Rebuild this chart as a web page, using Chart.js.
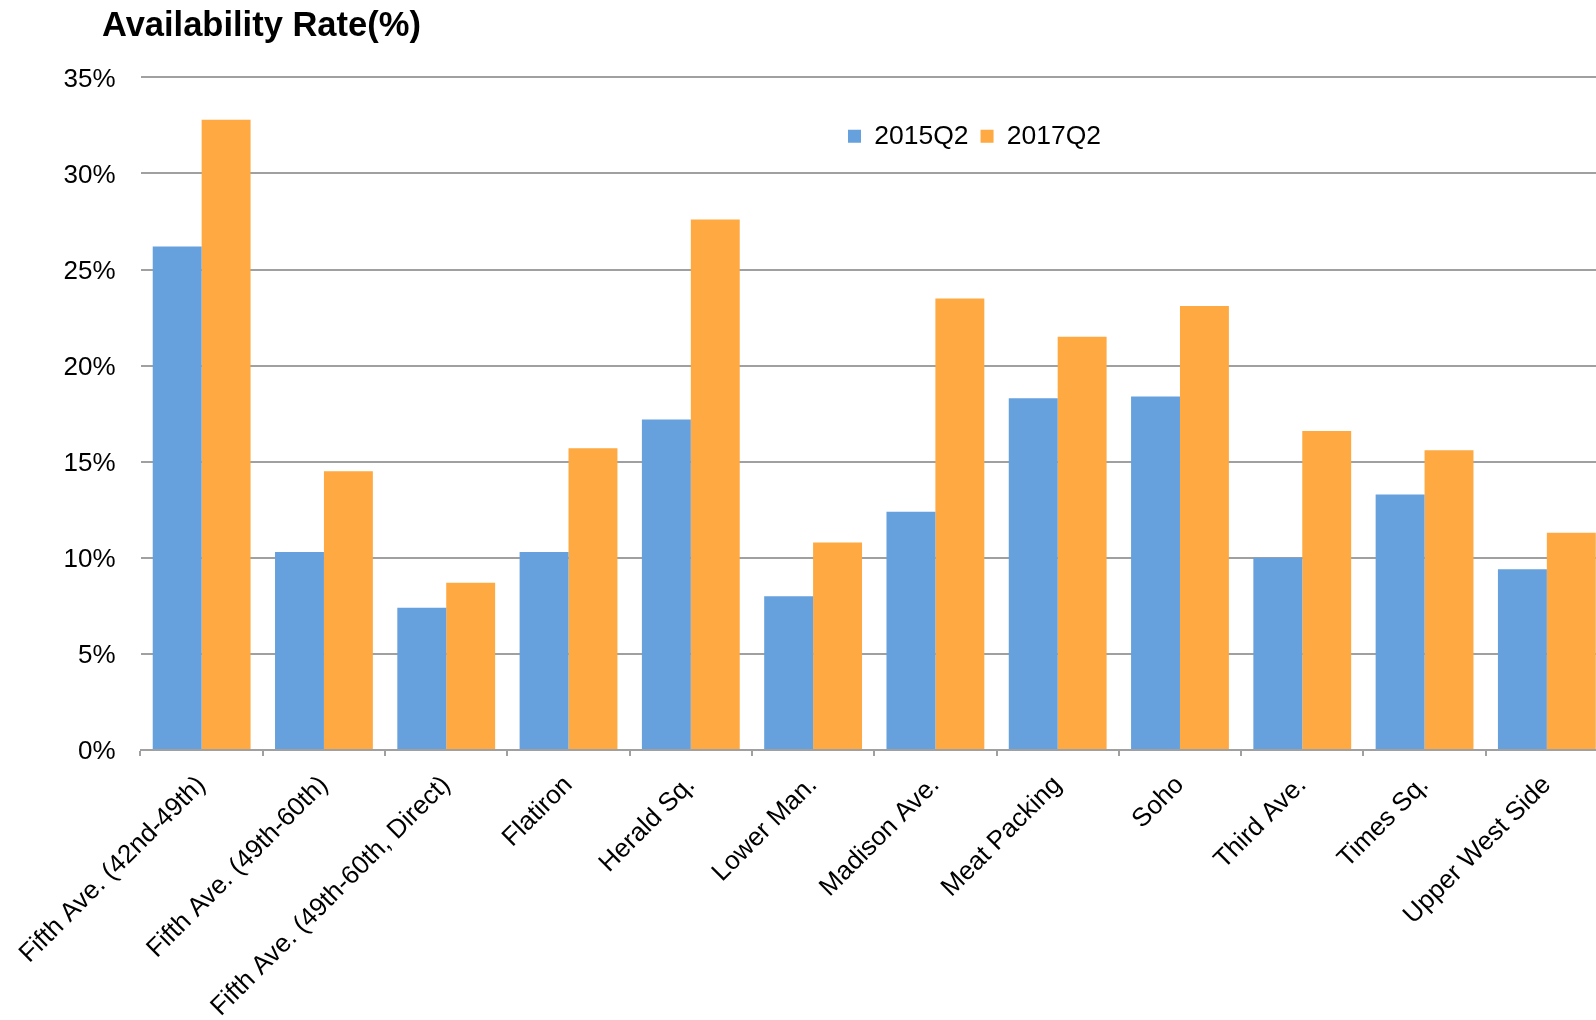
<!DOCTYPE html>
<html><head><meta charset="utf-8">
<script src="https://cdn.jsdelivr.net/npm/chart.js@4.4.0/dist/chart.umd.min.js"></script>
<style>
html,body{margin:0;padding:0;overflow:hidden;background:#fff;width:1596px;height:1020px;}
#wrap{position:absolute;left:0;top:0;width:1608px;height:1020px;}
</style></head><body>
<div id="wrap"><canvas id="c" width="1608" height="1020"></canvas></div>
<script>
const categories = ['Fifth Ave. (42nd-49th)', 'Fifth Ave. (49th-60th)', 'Fifth Ave. (49th-60th, Direct)', 'Flatiron', 'Herald Sq.', 'Lower Man.', 'Madison Ave.', 'Meat Packing', 'Soho', 'Third Ave.', 'Times Sq.', 'Upper West Side'];
const series2015 = [26.2, 10.3, 7.4, 10.3, 17.2, 8.0, 12.4, 18.3, 18.4, 10.0, 13.3, 9.4];
const series2017 = [32.8, 14.5, 8.7, 15.7, 27.6, 10.8, 23.5, 21.5, 23.1, 16.6, 15.6, 11.3];
const seriesNames = ['2015Q2', '2017Q2'];
const yTickValues = [0, 5, 10, 15, 20, 25, 30, 35];
const titleText = 'Availability Rate(%)';

const FONT = "'Liberation Sans', Arial, Helvetica, sans-serif";
const GRID = '#A0A0A0';

const posPlugin = {
  id: 'pos',
  beforeLayout(chart) {
    const l = chart.legend;
    if (l && !l._wrapped) {
      const origFit = l.fit.bind(l);
      l.fit = function () { origFit(); this._realHeight = this.height; this.height = 0; };
      l._wrapped = true;
    }
  },
  afterLayout(chart) {
    const t = chart.titleBlock;
    if (t) { const w = t.right - t.left; t.left = 102; t.right = 102 + w; }
    const l = chart.legend;
    if (l) {
      const h = (l._realHeight || 60) + 20;
      l.left = 836; l.right = 1600; l.width = l.right - l.left;
      l.top = 111; l.bottom = l.top + h; l.height = h;
    }
  }
};

new Chart(document.getElementById('c').getContext('2d'), {
  type: 'bar',
  data: {
    labels: categories,
    datasets: [
      { label: seriesNames[0], data: series2015, backgroundColor: '#66A1DD', borderWidth: 0 },
      { label: seriesNames[1], data: series2017, backgroundColor: '#FEA941', borderWidth: 0 }
    ]
  },
  options: {
    responsive: false,
    animation: false,
    devicePixelRatio: 1,
    layout: { padding: 0 },
    datasets: { bar: { categoryPercentage: 0.8, barPercentage: 1.0 } },
    plugins: {
      title: { display: true, text: titleText, align: 'start', color: '#000', font: { family: FONT, size: 34.5, weight: 'bold' }, padding: { top: 6, bottom: 30 } },
      legend: { position: 'top', align: 'start', labels: { boxWidth: 13, boxHeight: 13, padding: 12, color: '#000', font: { family: FONT, size: 26.5 } } },
      tooltip: { enabled: false }
    },
    scales: {
      x: {
        grid: { display: true, drawOnChartArea: false, drawTicks: true, tickLength: 6, color: GRID, lineWidth: 2 },
        border: { display: true, color: GRID, width: 2 },
        ticks: { autoSkip: false, minRotation: 45, maxRotation: 45, color: '#000', font: { family: FONT, size: 26 }, padding: 14 },
        afterFit(s) { s.height = 270; }
      },
      y: {
        min: 0, max: 35,
        afterBuildTicks(s) { s.ticks = yTickValues.map(v => ({ value: v })); },
        ticks: { callback: v => v + '%', padding: 25, labelOffset: 2, color: '#000', font: { family: FONT, size: 26 } },
        grid: { color: GRID, lineWidth: 2, drawTicks: false },
        border: { display: false },
        afterFit(s) { s.width = 140.5; }
      }
    }
  },
  plugins: [posPlugin]
});
</script>
</body></html>
